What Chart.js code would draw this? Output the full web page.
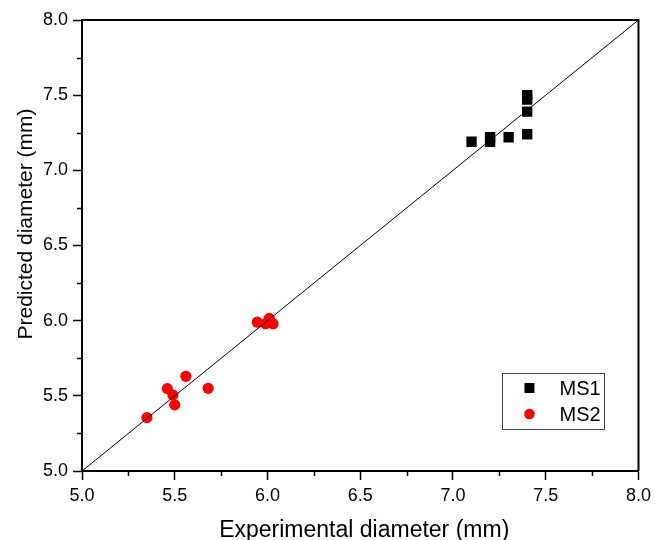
<!DOCTYPE html>
<html>
<head>
<meta charset="utf-8">
<script src="https://cdn.jsdelivr.net/npm/chart.js@4.4.1/dist/chart.umd.min.js"></script>
<style>
  html, body { margin: 0; padding: 0; background: #fff; }
  #wrap { width: 656px; height: 540px; }
</style>
</head>
<body>
<div id="wrap"><canvas id="diameterChart" width="656" height="540"></canvas></div>
<script>
// Measured vs. predicted diameters (mm)
const ms1Experimental = [7.10, 7.20, 7.20, 7.30, 7.40, 7.40, 7.40, 7.40];
const ms1Predicted    = [7.19, 7.22, 7.19, 7.22, 7.24, 7.39, 7.47, 7.50];

const ms2Experimental = [5.35, 5.46, 5.49, 5.50, 5.56, 5.68, 5.945, 5.99, 6.01, 6.03];
const ms2Predicted    = [5.355, 5.548, 5.505, 5.44, 5.63, 5.55, 5.99, 5.98, 6.015, 5.98];

// 1:1 reference line
const diagonal = [5.0, 8.0];

const axisMin = 5.0;
const axisMax = 8.0;
const majorStep = 0.5;

const FONT = '"Liberation Sans", Arial, Helvetica, sans-serif';

function toPoints(xs, ys) {
    return xs.map((x, i) => ({ x: x, y: ys[i] }));
}

/**
 * Minor ticks, box frame, axis titles and legend
 */
const decorations = {
    id: 'decorations',
    afterDraw(chart) {
        const { ctx, chartArea, scales } = chart;
        const xs = scales.x, ys = scales.y;
        ctx.save();

        // top and right edges of the frame
        ctx.strokeStyle = '#000';
        ctx.lineWidth = 2;
        ctx.beginPath();
        ctx.moveTo(chartArea.left, chartArea.top);
        ctx.lineTo(chartArea.right, chartArea.top);
        ctx.lineTo(chartArea.right, chartArea.bottom);
        ctx.stroke();

        // minor ticks halfway between the labelled ones
        ctx.lineWidth = 1.5;
        ctx.beginPath();
        for (let v = axisMin + majorStep / 2; v < axisMax; v += majorStep) {
            const px = Math.round(xs.getPixelForValue(v)) + 0.5;
            ctx.moveTo(px, chartArea.bottom);
            ctx.lineTo(px, chartArea.bottom + 5);
            const py = Math.round(ys.getPixelForValue(v)) + 0.5;
            ctx.moveTo(chartArea.left, py);
            ctx.lineTo(chartArea.left - 5, py);
        }
        ctx.stroke();

        // axis titles
        ctx.fillStyle = '#000';
        ctx.textAlign = 'center';
        ctx.textBaseline = 'alphabetic';
        ctx.font = '23px ' + FONT;
        ctx.fillText('Experimental diameter (mm)', (chartArea.left + chartArea.right) / 2 + 4, 537);

        ctx.save();
        ctx.translate(32, chartArea.top + 204);
        ctx.rotate(-Math.PI / 2);
        ctx.font = '21px ' + FONT;
        ctx.fillText('Predicted diameter (mm)', 0, 0);
        ctx.restore();

        // legend box in the lower right corner
        const boxW = 102, boxH = 56;
        const boxX = chartArea.right - 34 - boxW;
        const boxY = chartArea.bottom - 42 - boxH;
        ctx.strokeStyle = '#444';
        ctx.lineWidth = 1;
        ctx.strokeRect(Math.round(boxX) + 0.5, Math.round(boxY) + 0.5, boxW, boxH);

        ctx.font = '20px ' + FONT;
        ctx.textAlign = 'left';
        ctx.textBaseline = 'middle';
        const entries = chart.data.datasets.filter(ds => ds.showInLegend);
        entries.forEach((ds, i) => {
            const cy = boxY + 15 + i * 26;
            const mx = boxX + 27;
            ctx.fillStyle = ds.backgroundColor;
            if (ds.pointStyle === 'rect') {
                ctx.fillRect(mx - 5, cy - 5, 10, 10);
            } else {
                ctx.beginPath();
                ctx.arc(mx, cy, 5.3, 0, Math.PI * 2);
                ctx.fill();
            }
            ctx.fillStyle = '#000';
            ctx.fillText(ds.label, boxX + 57, cy + 1);
        });

        ctx.restore();
    }
};

const ctx = document.getElementById('diameterChart');
new Chart(ctx, {
    type: 'scatter',
    data: {
        datasets: [
            {
                type: 'line',
                label: '1:1',
                data: toPoints(diagonal, diagonal),
                borderColor: '#000',
                borderWidth: 1,
                pointRadius: 0,
                fill: false,
                order: 0
            },
            {
                label: 'MS1',
                data: toPoints(ms1Experimental, ms1Predicted),
                pointStyle: 'rect',
                pointRadius: 7.3,
                backgroundColor: '#000',
                borderWidth: 0,
                showInLegend: true,
                order: 1
            },
            {
                label: 'MS2',
                data: toPoints(ms2Experimental, ms2Predicted),
                pointStyle: 'circle',
                pointRadius: 5.6,
                backgroundColor: '#ff0000',
                borderWidth: 0,
                showInLegend: true,
                order: 2
            }
        ]
    },
    options: {
        responsive: false,
        animation: false,
        layout: {
            padding: { top: 20, right: 16, left: 0, bottom: 0 }
        },
        plugins: {
            legend: { display: false },
            tooltip: { enabled: false }
        },
        scales: {
            x: {
                type: 'linear',
                min: axisMin,
                max: axisMax,
                afterFit(scale) { scale.height = 69; },
                ticks: {
                    stepSize: majorStep,
                    color: '#000',
                    padding: 5,
                    font: { family: FONT, size: 18 },
                    callback: v => v.toFixed(1)
                },
                grid: {
                    drawOnChartArea: false,
                    tickLength: 9,
                    tickColor: '#000',
                    tickWidth: 1.5
                },
                border: { color: '#000', width: 2 }
            },
            y: {
                type: 'linear',
                min: axisMin,
                max: axisMax,
                afterFit(scale) { scale.width = 82; },
                ticks: {
                    stepSize: majorStep,
                    color: '#000',
                    padding: 5,
                    font: { family: FONT, size: 18 },
                    callback: v => v.toFixed(1)
                },
                grid: {
                    drawOnChartArea: false,
                    tickLength: 9,
                    tickColor: '#000',
                    tickWidth: 1.5
                },
                border: { color: '#000', width: 2 }
            }
        }
    },
    plugins: [decorations]
});
</script>
</body>
</html>
